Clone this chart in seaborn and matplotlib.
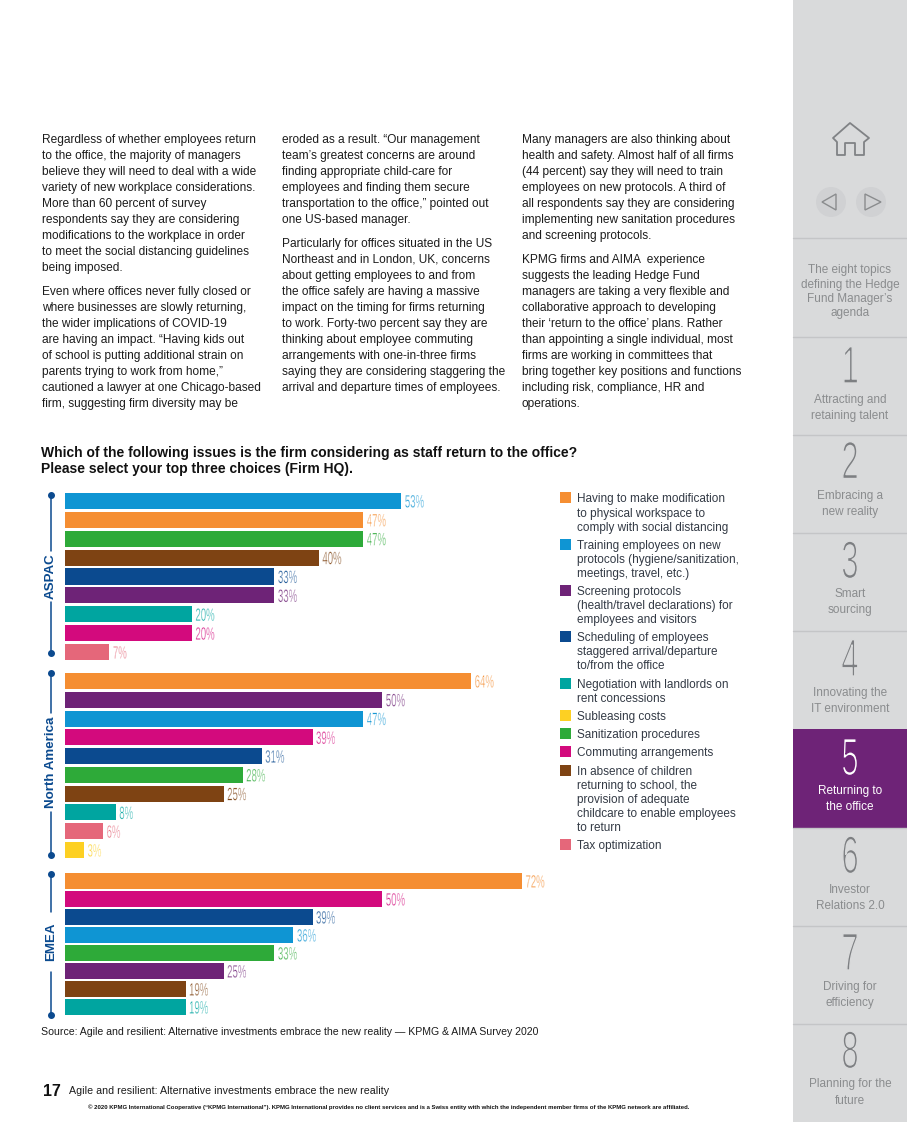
import matplotlib
matplotlib.use("Agg")
import matplotlib.pyplot as plt
import matplotlib.patheffects as pe
from matplotlib.patches import Rectangle, Circle, Polygon
from matplotlib.transforms import Affine2D
import pandas as pd
import seaborn as sns

FIG_W, FIG_H = 907, 1122
BODY_FONT = "Liberation Sans"

# Data
issues = {
    "modification": "#f58e32",
    "training": "#0f95d3",
    "screening": "#6e2377",
    "scheduling": "#0b4a8f",
    "negotiation": "#00a5a0",
    "subleasing": "#fdd023",
    "sanitization": "#2eaa39",
    "commuting": "#d30a7d",
    "childcare": "#7e4313",
    "tax": "#e5677a",
}

aspac_issues = ["training", "modification", "sanitization", "childcare", "scheduling",
                "screening", "negotiation", "commuting", "tax"]
aspac_values = [53, 47, 47, 40, 33, 33, 20, 20, 7]

na_issues = ["modification", "screening", "training", "commuting", "scheduling",
             "sanitization", "childcare", "negotiation", "tax", "subleasing"]
na_values = [64, 50, 47, 39, 31, 28, 25, 8, 6, 3]

emea_issues = ["modification", "commuting", "scheduling", "training", "sanitization",
               "screening", "childcare", "negotiation"]
emea_values = [72, 50, 39, 36, 33, 25, 19, 19]

title_lines = ["Which of the following issues is the firm considering as staff return to the office?",
               "Please select your top three choices (Firm HQ)."]
source_text = "Source: Agile and resilient: Alternative investments embrace the new reality \u2014 KPMG & AIMA Survey 2020"
footer_text = "Agile and resilient: Alternative investments embrace the new reality"
copyright_text = ("\u00a9 2020 KPMG International Cooperative (\u201cKPMG International\u201d). KPMG International provides "
                  "no client services and is a Swiss entity with which the independent member firms of the KPMG network are affiliated.")

col1 = [(139, "Regardless of whether employees return"), (155, "to the office, the majority of managers"),
        (171, "believe they will need to deal with a wide"), (187, "variety of new workplace considerations."),
        (203, "More than 60 percent of survey"), (219, "respondents say they are considering"),
        (235, "modifications to the workplace in order"), (251, "to meet the social distancing guidelines"),
        (267, "being imposed."), (291, "Even where offices never fully closed or"),
        (307, "where businesses are slowly returning,"), (323, "the wider implications of COVID-19"),
        (339, "are having an impact. \u201cHaving kids out"), (355, "of school is putting additional strain on"),
        (371, "parents trying to work from home,\u201d"), (387, "cautioned a lawyer at one Chicago-based"),
        (403, "firm, suggesting firm diversity may be")]
col2 = [(139, "eroded as a result. \u201cOur management"), (155, "team\u2019s greatest concerns are around"),
        (171, "finding appropriate child-care for"), (187, "employees and finding them secure"),
        (203, "transportation to the office,\u201d pointed out"), (219, "one US-based manager."),
        (243, "Particularly for offices situated in the US"), (259, "Northeast and in London, UK, concerns"),
        (275, "about getting employees to and from"), (291, "the office safely are having a massive"),
        (307, "impact on the timing for firms returning"), (323, "to work. Forty-two percent say they are"),
        (339, "thinking about employee commuting"), (355, "arrangements with one-in-three firms"),
        (371, "saying they are considering staggering the"), (387, "arrival and departure times of employees.")]
col3 = [(139, "Many managers are also thinking about"), (155, "health and safety. Almost half of all firms"),
        (171, "(44 percent) say they will need to train"), (187, "employees on new protocols. A third of"),
        (203, "all respondents say they are considering"), (219, "implementing new sanitation procedures"),
        (235, "and screening protocols."), (259, "KPMG firms and AIMA  experience"),
        (275, "suggests the leading Hedge Fund"), (291, "managers are taking a very flexible and"),
        (307, "collaborative approach to developing"), (323, "their \u2018return to the office\u2019 plans. Rather"),
        (339, "than appointing a single individual, most"), (355, "firms are working in committees that"),
        (371, "bring together key positions and functions"), (387, "including risk, compliance, HR and"),
        (403, "operations.")]

legend_entries = [
    ("modification", 497, [(498, "Having to make modification"), (513, "to physical workspace to"), (527, "comply with social distancing")]),
    ("training", 544, [(545, "Training employees on new"), (559, "protocols (hygiene/sanitization,"), (573, "meetings, travel, etc.)")]),
    ("screening", 590, [(591, "Screening protocols"), (605, "(health/travel declarations) for"), (619, "employees and visitors")]),
    ("scheduling", 636, [(637, "Scheduling of employees"), (651, "staggered arrival/departure"), (665, "to/from the office")]),
    ("negotiation", 683, [(684, "Negotiation with landlords on"), (698, "rent concessions")]),
    ("subleasing", 715, [(716, "Subleasing costs")]),
    ("sanitization", 733, [(734, "Sanitization procedures")]),
    ("commuting", 751, [(752, "Commuting arrangements")]),
    ("childcare", 770, [(771, "In absence of children"), (785, "returning to school, the"), (799, "provision of adequate"),
                        (813, "childcare to enable employees"), (827, "to return")]),
    ("tax", 844, [(845, "Tax optimization")]),
]

sidebar_items = [
    ("1", 369, [(399, "Attracting and"), (415, "retaining talent")]),
    ("2", 464.5, [(495, "Embracing a"), (511, "new reality")]),
    ("3", 564, [(593, "Smart"), (609, "sourcing")]),
    ("4", 662, [(692, "Innovating the"), (708, "IT environment")]),
    ("5", 761, [(790, "Returning to"), (806, "the office")]),
    ("6", 859, [(889, "Investor"), (905, "Relations 2.0")]),
    ("7", 956, [(986, "Driving for"), (1002, "efficiency")]),
    ("8", 1054, [(1084, "Planning for the"), (1100, "future")]),
]
intro_lines = [(269, "The eight topics"), (284, "defining the Hedge"), (298, "Fund Manager\u2019s"), (312, "agenda")]
divider_rows = [238, 337, 435, 533, 631, 828, 926, 1024]

SIDEBAR_BG = "#d9dadb"
SIDE_TEXT = "#8a8c8e"
PURPLE = "#6e2377"
NAVY = "#0b4a8f"


class Condensed(pe.AbstractPathEffect):
    """Squeezes glyphs sideways and shaves them with the background colour."""

    def __init__(self, squeeze, shave=0.0, bg="white", centered=False):
        super().__init__()
        self.squeeze = squeeze
        self.shave = shave
        self.bg = bg
        self.centered = centered

    def draw_path(self, renderer, gc, tpath, affine, rgbFace=None):
        ext = tpath.get_extents()
        mid = (ext.x0 + ext.x1) / 2 if self.centered else 0
        squeezed = Affine2D().translate(-mid, 0).scale(self.squeeze, 1).translate(mid, 0) + affine
        gc0 = renderer.new_gc()
        gc0.copy_properties(gc)
        if self.shave > 0:
            gc0.set_foreground(self.bg)
            gc0.set_linewidth(self.shave)
        else:
            gc0.set_linewidth(0)
        renderer.draw_path(gc0, tpath, squeezed, rgbFace)
        gc0.restore()


sns.set_style("white")
plt.rcParams["font.family"] = [BODY_FONT, "DejaVu Sans"]

fig = plt.figure(figsize=(FIG_W / 100, FIG_H / 100), dpi=100)

# Full page axes in pixel coordinates for everything around the bars
page = fig.add_axes([0, 0, 1, 1])
page.set_xlim(0, FIG_W)
page.set_ylim(FIG_H, 0)
page.axis("off")


def put_lines(lines, x, size=9, color="#1c1c1c", ha="left", **kw):
    for y, line in lines:
        page.text(x, y + 0.5, line, fontsize=size, color=color, ha=ha, va="center", **kw)


for col_x, col in [(42, col1), (282, col2), (522, col3)]:
    put_lines(col, col_x, size=8.53)

put_lines(list(zip([452.5, 468.5], title_lines)), 41, size=10, color="#111111", fontweight="bold")
page.text(41, 1032, source_text, fontsize=7.6, color="#1c1c1c", va="center")
page.text(43, 1091, "17", fontsize=11.5, fontweight="bold", color="#111111", va="center")
page.text(69, 1091, footer_text, fontsize=7.7, color="#1c1c1c", va="center")
page.text(88, 1107, copyright_text, fontsize=4.35, color="#111111", va="center", fontweight="bold")

# Legend
for key, box_y, lines in legend_entries:
    page.add_patch(Rectangle((560, box_y - 5), 11, 11, color=issues[key], lw=0))
    put_lines(lines, 577, size=8.5, color="#333a45")


# Bars
def draw_region(labels, values, top, bottom, bar_width):
    ax = fig.add_axes([65 / FIG_W, 1 - bottom / FIG_H, 634.7 / FIG_W, (bottom - top) / FIG_H])
    df = pd.DataFrame({"issue": labels, "value": values})
    sns.barplot(data=df, x="value", y="issue", hue="issue", order=labels, hue_order=labels,
                palette=issues, dodge=False, legend=False, width=bar_width, saturation=1,
                linewidth=0, ax=ax)
    ax.set_xlim(0, 100)
    ax.axis("off")
    ax.patch.set_alpha(0)
    for i, v in enumerate(values):
        ax.text(v + 0.55, i, f"{v}%", color=issues[labels[i]], fontsize=12.8, va="center_baseline",
                path_effects=[Condensed(0.54, shave=0.25)])
    return ax


draw_region(aspac_issues, aspac_values, 491.5, 661.5, 0.85)
draw_region(na_issues, na_values, 671.6, 859.4, 0.85)
draw_region(emea_issues, emea_values, 872, 1016, 0.89)

# Region brackets
for name, y0, y1, gap0, gap1 in [("ASPAC", 495, 653, 551, 602), ("North America", 673, 855, 713, 812),
                                 ("EMEA", 874, 1015, 912, 972)]:
    page.plot([51, 51], [y0, gap0], color=NAVY, lw=1.1)
    page.plot([51, 51], [gap1, y1], color=NAVY, lw=1.1)
    page.plot([51, 51], [y0, y1], "o", color=NAVY, ms=4)
    page.text(51, (gap0 + gap1) / 2, name, rotation=90, ha="center", va="center", color=NAVY,
              fontsize=9.6, fontweight="bold")

# Sidebar
page.add_patch(Rectangle((793, 0), 114, FIG_H, color=SIDEBAR_BG, lw=0))
page.add_patch(Rectangle((793, 729), 114, 99, color=PURPLE, lw=0))
for y in divider_rows:
    page.plot([793, 907], [y, y], color="#c4c5c7", lw=1)

home = [(833, 138), (850, 123), (869, 138), (864, 142), (864, 155), (855, 155), (855, 143),
        (845, 143), (845, 155), (837, 155), (837, 142)]
page.add_patch(Polygon(home, closed=True, fill=False, edgecolor="#808285", lw=1.3, joinstyle="round"))
for cx, tri in [(831, [(836, 194), (836, 210), (822, 202)]), (871, [(865, 194), (865, 210), (881, 202)])]:
    page.add_patch(Circle((cx, 202), 15, color="#d0d1d3", lw=0))
    page.add_patch(Polygon(tri, closed=True, fill=False, edgecolor=SIDE_TEXT, lw=1))

put_lines(intro_lines, 850, size=8.5, color=SIDE_TEXT, ha="center")
for num, num_y, lines in sidebar_items:
    active = num == "5"
    fg = "white" if active else "#7d7f82"
    bg = PURPLE if active else SIDEBAR_BG
    page.text(850, num_y, num, fontsize=38, color=fg, ha="center", va="center",
              path_effects=[Condensed(0.6, shave=1.0, bg=bg, centered=True)])
    put_lines(lines, 850, size=8.5, color="white" if active else SIDE_TEXT, ha="center")

fig.savefig("out.png", dpi=100, facecolor="white")
